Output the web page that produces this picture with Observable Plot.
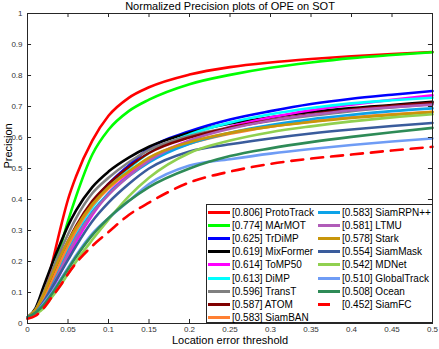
<!DOCTYPE html>
<html>
<head>
<meta charset="utf-8">
<script src="https://cdn.jsdelivr.net/npm/d3@7"></script>
<script src="https://cdn.jsdelivr.net/npm/@observablehq/plot@0.6"></script>
<style>
  body { margin: 0; background: #fff; }
  #wrap { position: relative; width: 439px; height: 349px; font-family: "Liberation Sans", Arial, sans-serif; }
  #legend { position: absolute; left: 206px; top: 204px; width: 225px; height: 117px; border: 1px solid #262626; background: #fff; }
  .item { position: absolute; height: 13px; line-height: 13px; font-size: 10px; color: #000; white-space: nowrap; }
  .sw { position: absolute; top: 5px; height: 3px; }
  .lbl { position: absolute; top: 0; }
</style>
</head>
<body>
<div id="wrap"></div>
<script>
const thresholds = [0, 0.01, 0.02, 0.03, 0.04, 0.05, 0.06, 0.08, 0.1, 0.125, 0.15, 0.2, 0.25, 0.3, 0.35, 0.4, 0.45, 0.5];

const trackers = ["ProtoTrack", "MArMOT", "TrDiMP", "MixFormer", "ToMP50", "DiMP", "TransT", "ATOM", "SiamBAN",
                  "SiamRPN++", "LTMU", "Stark", "SiamMask", "MDNet", "GlobalTrack", "Ocean", "SiamFC"];
const scores = ["0.806", "0.774", "0.625", "0.619", "0.614", "0.613", "0.596", "0.587", "0.583",
                "0.583", "0.581", "0.578", "0.554", "0.542", "0.510", "0.508", "0.452"];
const colors = ["#ff0000", "#00ff00", "#0000ff", "#000000", "#ff00ff", "#00ffff", "#808080", "#800000", "#ff8033",
                "#0ca3e8", "#b05cb8", "#c8960a", "#3a5c9c", "#90d050", "#6f9cf5", "#2e8b57", "#ff0000"];

const protoTrack  = [0.02, 0.04, 0.09, 0.19, 0.30, 0.40, 0.475, 0.59, 0.67, 0.728, 0.762, 0.803, 0.827, 0.842, 0.853, 0.862, 0.869, 0.876];
const marmot      = [0.02, 0.04, 0.09, 0.16, 0.24, 0.33, 0.41, 0.545, 0.625, 0.685, 0.722, 0.772, 0.802, 0.825, 0.842, 0.856, 0.866, 0.875];
const trdimp      = [0.02, 0.04, 0.08, 0.14, 0.20, 0.26, 0.31, 0.39, 0.45, 0.51, 0.565, 0.62, 0.658, 0.685, 0.708, 0.725, 0.738, 0.750];
const mixformer   = [0.02, 0.05, 0.12, 0.19, 0.255, 0.315, 0.365, 0.44, 0.49, 0.535, 0.57, 0.615, 0.645, 0.665, 0.682, 0.695, 0.705, 0.715];
const tomp50      = [0.02, 0.035, 0.065, 0.11, 0.16, 0.215, 0.265, 0.35, 0.42, 0.48, 0.53, 0.59, 0.635, 0.665, 0.688, 0.706, 0.722, 0.736];
const dimp        = [0.02, 0.04, 0.075, 0.13, 0.19, 0.245, 0.295, 0.375, 0.44, 0.50, 0.55, 0.61, 0.648, 0.675, 0.695, 0.71, 0.72, 0.728];
const transt      = [0.02, 0.045, 0.10, 0.165, 0.23, 0.288, 0.34, 0.42, 0.47, 0.52, 0.56, 0.605, 0.632, 0.653, 0.67, 0.685, 0.697, 0.708];
const atom        = [0.02, 0.04, 0.085, 0.145, 0.21, 0.265, 0.315, 0.395, 0.45, 0.505, 0.55, 0.60, 0.632, 0.656, 0.675, 0.69, 0.702, 0.712];
const siamban     = [0.02, 0.04, 0.08, 0.135, 0.195, 0.25, 0.30, 0.38, 0.435, 0.49, 0.53, 0.58, 0.612, 0.635, 0.652, 0.665, 0.675, 0.683];
const siamrpnpp   = [0.02, 0.035, 0.07, 0.12, 0.175, 0.23, 0.28, 0.36, 0.42, 0.475, 0.52, 0.58, 0.615, 0.64, 0.659, 0.673, 0.685, 0.694];
const ltmu        = [0.02, 0.035, 0.068, 0.115, 0.17, 0.225, 0.275, 0.355, 0.415, 0.475, 0.525, 0.59, 0.628, 0.655, 0.673, 0.688, 0.698, 0.706];
const stark       = [0.02, 0.045, 0.095, 0.155, 0.213, 0.265, 0.31, 0.385, 0.44, 0.49, 0.535, 0.585, 0.615, 0.635, 0.65, 0.663, 0.673, 0.682];
const siammask    = [0.02, 0.035, 0.07, 0.115, 0.16, 0.205, 0.25, 0.33, 0.39, 0.45, 0.50, 0.555, 0.578, 0.597, 0.613, 0.626, 0.637, 0.647];
const mdnet       = [0.02, 0.03, 0.05, 0.085, 0.12, 0.16, 0.20, 0.27, 0.335, 0.41, 0.47, 0.55, 0.59, 0.617, 0.636, 0.652, 0.665, 0.675];
const globaltrack = [0.02, 0.035, 0.065, 0.10, 0.14, 0.18, 0.22, 0.29, 0.34, 0.395, 0.45, 0.51, 0.53, 0.548, 0.563, 0.576, 0.587, 0.597];
const ocean       = [0.02, 0.035, 0.06, 0.095, 0.135, 0.175, 0.215, 0.285, 0.34, 0.395, 0.44, 0.50, 0.54, 0.565, 0.585, 0.602, 0.617, 0.631];
const siamfc      = [0.015, 0.025, 0.05, 0.085, 0.12, 0.16, 0.195, 0.25, 0.295, 0.35, 0.39, 0.455, 0.49, 0.515, 0.532, 0.545, 0.558, 0.57];

const series = [protoTrack, marmot, trdimp, mixformer, tomp50, dimp, transt, atom, siamban,
                siamrpnpp, ltmu, stark, siammask, mdnet, globaltrack, ocean, siamfc];

const xTicks = [0, 0.05, 0.1, 0.15, 0.2, 0.25, 0.3, 0.35, 0.4, 0.45, 0.5];
const yTicks = [0, 0.1, 0.2, 0.3, 0.4, 0.5, 0.6, 0.7, 0.8, 0.9, 1];

const rows = [];
series.forEach((vals, i) => vals.forEach((v, j) => rows.push({tracker: trackers[i], x: thresholds[j], y: v})));

const fmt = d => String(+d.toFixed(2));
const axisColor = "#262626";
const font = "Liberation Sans, Arial, sans-serif";

const lineMarks = trackers.map((t, i) =>
  Plot.line(rows.filter(r => r.tracker === t), {
    x: "x", y: "y", stroke: colors[i], strokeWidth: 2.6, curve: "monotone-x",
    strokeDasharray: t === "SiamFC" ? "12,8" : null
  })
);

const chart = Plot.plot({
  width: 439, height: 349,
  marginLeft: 27, marginRight: 7, marginTop: 13, marginBottom: 26,
  style: {fontFamily: font, background: "#fff"},
  x: {domain: [0, 0.5]},
  y: {domain: [0, 1]},
  marks: [
    ...lineMarks,
    Plot.frame({stroke: axisColor}),
    Plot.ruleX(xTicks.slice(1, -1), {x: d => d, y1: 0, y2: 0.013, stroke: axisColor}),
    Plot.ruleX(xTicks.slice(1, -1), {x: d => d, y1: 1, y2: 0.987, stroke: axisColor}),
    Plot.ruleY(yTicks.slice(1, -1), {y: d => d, x1: 0, x2: 0.005, stroke: axisColor}),
    Plot.ruleY(yTicks.slice(1, -1), {y: d => d, x1: 0.5, x2: 0.495, stroke: axisColor}),
    Plot.axisX({ticks: xTicks, tickSize: 0, tickPadding: 3, tickFormat: fmt, fontSize: 8, fill: "#333", label: null}),
    Plot.axisY({ticks: yTicks, tickSize: 0, tickPadding: 5, tickFormat: fmt, fontSize: 8, fill: "#333", label: null}),
    Plot.text(["Normalized Precision plots of OPE on SOT"], {frameAnchor: "top", lineAnchor: "middle", dy: -7, fontSize: 11, fill: "#000"}),
    Plot.text(["Location error threshold"], {frameAnchor: "bottom", lineAnchor: "middle", dy: 17, fontSize: 11, fill: "#000"}),
    Plot.text(["Precision"], {frameAnchor: "left", lineAnchor: "middle", dx: -19, rotate: -90, fontSize: 11, fill: "#000"})
  ]
});

const wrap = document.getElementById("wrap");
wrap.appendChild(chart);

const legend = document.createElement("div");
legend.id = "legend";
trackers.forEach((t, i) => {
  const col = i < 9 ? 0 : 1;
  const row = i < 9 ? i : i - 9;
  const item = document.createElement("div");
  item.className = "item";
  item.style.left = (col === 0 ? 1 : 111) + "px";
  item.style.top = (1 + row * 13.1) + "px";
  const sw = document.createElement("div");
  sw.className = "sw";
  sw.style.left = "0px";
  sw.style.width = t === "SiamFC" ? "12px" : "22px";
  sw.style.background = colors[i];
  const lbl = document.createElement("span");
  lbl.className = "lbl";
  lbl.style.left = "24px";
  lbl.textContent = `[${scores[i]}] ${t}`;
  item.appendChild(sw);
  item.appendChild(lbl);
  legend.appendChild(item);
});
wrap.appendChild(legend);
</script>
</body>
</html>
